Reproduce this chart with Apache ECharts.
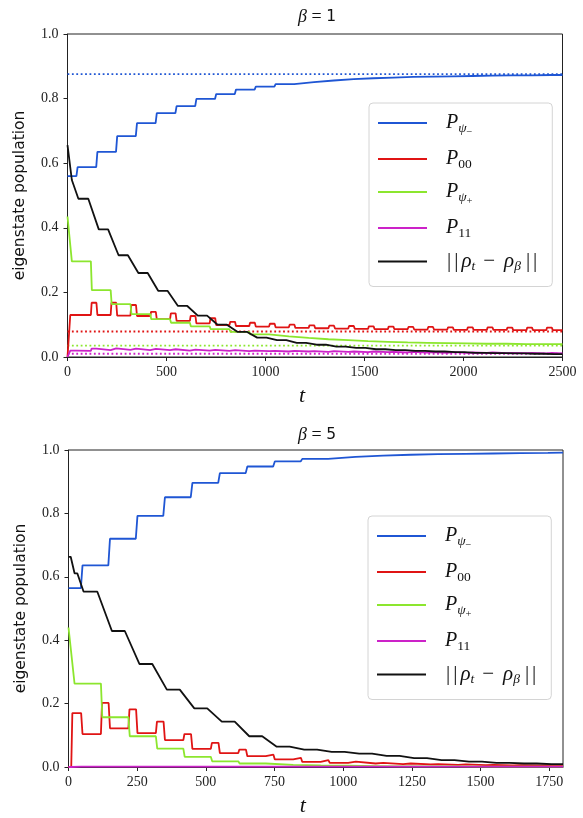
<!DOCTYPE html>
<html>
<head>
<meta charset="utf-8">
<script src="https://cdn.jsdelivr.net/npm/echarts@6/dist/echarts.min.js"></script>
<style>
  html, body { margin: 0; padding: 0; background: #ffffff; }
  #chart { width: 583px; height: 818px; }
</style>
</head>
<body>
<div id="chart"></div>
<script>
// Drive protocol: one pulse per cycle of 100 time units.
const cycle = 100;
const firstOn = 10;   // the very first pulse starts early
const pulseOn = 18;   // pulse start inside a cycle
const pulseOff = 48;  // pulse end inside a cycle

// ---------------- beta = 1 ----------------
const tMax1 = 2500;
const xTicks1 = [0, 500, 1000, 1500, 2000, 2500];
const blue1Start = 0.560;
const blue1 = [0.588, 0.635, 0.684, 0.724, 0.755, 0.777, 0.799, 0.814, 0.828, 0.837,
               0.845, 0.851, 0.856, 0.860, 0.863, 0.865, 0.867, 0.868, 0.869, 0.870,
               0.871, 0.872, 0.872, 0.873, 0.873];
const red1Peak = [0.130, 0.168, 0.168, 0.161, 0.140, 0.135, 0.127, 0.120, 0.109, 0.106,
                  0.103, 0.100, 0.098, 0.097, 0.096, 0.095, 0.094, 0.093, 0.093, 0.092,
                  0.092, 0.092, 0.091, 0.091, 0.091];
const red1Base = [0.130, 0.130, 0.128, 0.127, 0.117, 0.112, 0.104, 0.099, 0.096, 0.094,
                  0.092, 0.090, 0.089, 0.088, 0.087, 0.086, 0.086, 0.085, 0.085, 0.084,
                  0.084, 0.084, 0.083, 0.083, 0.083];
const green1Start = 0.435;
const green1 = [0.296, 0.207, 0.164, 0.133, 0.117, 0.106, 0.095, 0.086, 0.078, 0.070,
                0.064, 0.059, 0.055, 0.052, 0.049, 0.047, 0.045, 0.044, 0.043, 0.042,
                0.041, 0.041, 0.040, 0.040, 0.040];
const magenta1Peak = [0.020, 0.026, 0.027, 0.026, 0.025, 0.024, 0.023, 0.022, 0.021, 0.020,
                      0.019, 0.019, 0.018, 0.018, 0.017, 0.017, 0.016, 0.016, 0.015, 0.015,
                      0.014, 0.014, 0.013, 0.013, 0.013];
const magenta1Base = [0.019, 0.021, 0.022, 0.021, 0.021, 0.020, 0.020, 0.019, 0.018, 0.018,
                      0.017, 0.017, 0.016, 0.016, 0.015, 0.015, 0.014, 0.014, 0.013, 0.013,
                      0.013, 0.012, 0.012, 0.011, 0.011];
const dist1Start = 0.656;
const dist1Lead = 0.548;   // fast initial drop before the first cycle settles
const dist1 = [0.490, 0.395, 0.315, 0.260, 0.205, 0.158, 0.128, 0.100, 0.078, 0.060,
               0.052, 0.044, 0.038, 0.032, 0.028, 0.024, 0.021, 0.019, 0.017, 0.015,
               0.013, 0.012, 0.011, 0.010, 0.009];
// thermal populations at beta = 1: psi-, 00, psi+, 11
const thermal1 = [0.876, 0.079, 0.035, 0.010];

// ---------------- beta = 5 ----------------
const tMax5 = 1800;
const xTicks5 = [0, 250, 500, 750, 1000, 1250, 1500, 1750];
const blue5Start = 0.564;
const blue5 = [0.636, 0.720, 0.792, 0.851, 0.896, 0.927, 0.948, 0.964, 0.972, 0.978,
               0.982, 0.985, 0.987, 0.988, 0.989, 0.990, 0.991, 0.992];
const red5Peak = [0.170, 0.202, 0.182, 0.143, 0.104, 0.076, 0.055, 0.039, 0.029, 0.022,
                  0.017, 0.013, 0.011, 0.009, 0.008, 0.007, 0.006, 0.006];
const red5Base = [0.104, 0.122, 0.107, 0.085, 0.057, 0.044, 0.034, 0.024, 0.016, 0.013,
                  0.011, 0.009, 0.008, 0.007, 0.006, 0.005, 0.005, 0.005];
const green5Start = 0.440;
const green5 = [0.263, 0.157, 0.097, 0.058, 0.032, 0.018, 0.011, 0.007, 0.005, 0.004,
                0.003, 0.002, 0.002, 0.002, 0.001, 0.001, 0.001, 0.001];
const magenta5Peak = [0.001, 0.001, 0.001, 0.001, 0.001, 0.001, 0.001, 0.001, 0.001, 0.001,
                      0.001, 0.001, 0.001, 0.001, 0.001, 0.001, 0.001, 0.001];
const magenta5Base = [0.001, 0.001, 0.001, 0.001, 0.001, 0.001, 0.001, 0.001, 0.001, 0.001,
                      0.001, 0.001, 0.001, 0.001, 0.001, 0.001, 0.001, 0.001];
const dist5Start = 0.663;
const dist5Lead = 0.611;
const dist5 = [0.553, 0.429, 0.325, 0.244, 0.185, 0.143, 0.097, 0.064, 0.055, 0.048,
               0.042, 0.035, 0.028, 0.022, 0.017, 0.013, 0.011, 0.009];

const yTicks = [0, 0.2, 0.4, 0.6, 0.8, 1.0];

const names = ['Ppsim', 'P00', 'Ppsip', 'P11', 'dist'];
const colors = ['#1f56d4', '#e01414', '#8ce62e', '#cc22c8', '#111111'];

// ---- curve builders ----
const onset = k => (k === 0 ? firstOn : k * cycle + pulseOn);
const release = k => k * cycle + pulseOff;

// piecewise-constant levels with a transition window per cycle
function stairs(start, levels, win, tEnd, lead) {
  const pts = [[0, start]];
  let prev = start;
  if (lead !== undefined) {
    pts.push([8, start], [22, lead]);
    prev = lead;
  }
  levels.forEach((v, k) => {
    const [a, b] = win(k);
    if (a > tEnd) return;
    pts.push([a, prev], [Math.min(b, tEnd), v]);
    prev = v;
  });
  pts.push([tEnd, prev]);
  return pts;
}
// level raised to a peak during each pulse, then settles on a base
function pulses(peaks, bases, tEnd) {
  const pts = [[0, 0]];
  let prev = 0;
  bases.forEach((b, k) => {
    const on = onset(k), off = release(k);
    if (on > tEnd) return;
    pts.push([on, prev], [on + 4, peaks[k]], [off - 2, peaks[k]], [Math.min(off + 3, tEnd), b]);
    prev = b;
  });
  pts.push([tEnd, prev]);
  return pts;
}
const blueWin = k => [release(k) - 3, release(k) + 3];
const greenWin = k => (k === 0 ? [3, 22] : [onset(k), onset(k) + 5]);
const distWin = k => (k === 0 ? [32, 55] : [k * cycle + 5, k * cycle + 58]);

function panel(idx, tEnd, d) {
  const curves = [
    stairs(d.blueStart, d.blue, blueWin, tEnd),
    pulses(d.redPeak, d.redBase, tEnd),
    stairs(d.greenStart, d.green, greenWin, tEnd),
    pulses(d.magPeak, d.magBase, tEnd),
    stairs(d.distStart, d.dist, distWin, tEnd, d.distLead)
  ];
  const out = [];
  if (d.thermal) {
    d.thermal.forEach((v, i) => {
      out.push({
        type: 'line', name: 'thermal' + i, xAxisIndex: idx, yAxisIndex: idx,
        data: [[0, v], [tEnd, v]], symbol: 'none', silent: true, z: 1,
        lineStyle: { color: colors[i], width: 1.8, type: [1.8, 2.6] }
      });
    });
  }
  curves.forEach((c, i) => {
    out.push({
      type: 'line', name: names[i], xAxisIndex: idx, yAxisIndex: idx,
      data: c, symbol: 'none', showSymbol: false, silent: true, z: 2 + i,
      lineStyle: { color: colors[i], width: 1.8 }, itemStyle: { color: colors[i] }
    });
  });
  return out;
}

const serif = 'Liberation Serif';
const tickFont = { fontFamily: serif, fontSize: 14, color: '#222' };

function xAxis(idx, tEnd, ticks) {
  return {
    type: 'value', gridIndex: idx, min: 0, max: tEnd, interval: ticks[1] - ticks[0],
    splitLine: { show: false },
    axisLine: { show: true, lineStyle: { color: '#222', width: 1 } },
    axisTick: { show: true, length: 4, lineStyle: { color: '#222' } },
    axisLabel: Object.assign({ margin: 8, showMaxLabel: tEnd === ticks[ticks.length - 1],
                               formatter: v => String(v) }, tickFont),
    name: '{t|t}', nameLocation: 'middle', nameGap: 28,
    nameTextStyle: { rich: { t: { fontFamily: serif, fontStyle: 'italic', fontSize: 22, color: '#111', padding: [0, 26, 0, 0] } } }
  };
}
function yAxis(idx) {
  return {
    type: 'value', gridIndex: idx, min: 0, max: 1, interval: yTicks[1] - yTicks[0],
    splitLine: { show: false },
    axisLine: { show: true, lineStyle: { color: '#222', width: 1 } },
    axisTick: { show: true, length: 4, lineStyle: { color: '#222' } },
    axisLabel: Object.assign({ margin: 9, formatter: v => v.toFixed(1) }, tickFont),
    name: 'eigenstate population', nameLocation: 'middle', nameGap: 40, nameRotate: 90,
    nameTextStyle: { fontFamily: 'DejaVu Sans', fontSize: 15.5, color: '#111' }
  };
}

const base = { color: '#111', lineHeight: 24, fontWeight: 'normal' };
const legendRich = {
  g: { width: 14 },
  P: Object.assign({ fontFamily: serif, fontStyle: 'italic', fontSize: 20, verticalAlign: 'middle' }, base),
  s: Object.assign({ fontFamily: serif, fontSize: 13.5, verticalAlign: 'bottom' }, base),
  si: Object.assign({ fontFamily: serif, fontStyle: 'italic', fontSize: 13.5, verticalAlign: 'bottom' }, base),
  ss: Object.assign({ fontFamily: serif, fontSize: 10.5, verticalAlign: 'bottom', padding: [0, 0, -3, 0] }, base),
  bar: Object.assign({ fontFamily: serif, fontSize: 21, verticalAlign: 'middle', padding: [0, 2, 0, 1] }, base),
  mi: Object.assign({ fontFamily: serif, fontSize: 21, verticalAlign: 'middle', padding: [0, 8, 0, 8] }, base),
  ni: Object.assign({ fontFamily: serif, fontStyle: 'italic', fontSize: 21, verticalAlign: 'middle', padding: [0, 0, 0, 1] }, base),
  sib: Object.assign({ fontFamily: serif, fontStyle: 'italic', fontSize: 13.5, verticalAlign: 'bottom', padding: [0, 4, 0, 0] }, base)
};
const legendText = {
  Ppsim: '{g|}{P|P}{si|ψ}{ss|−}',
  P00: '{g|}{P|P}{s|00}',
  Ppsip: '{g|}{P|P}{si|ψ}{ss|+}',
  P11: '{g|}{P|P}{s|11}',
  dist: '{g|}{bar||}{bar||}{ni|ρ}{si|t}{mi|−}{ni|ρ}{sib|β}{bar||}{bar||}'
};
function legend(left, top) {
  return {
    data: names.map(n => ({ name: n, icon: 'rect' })),
    orient: 'vertical', left: left, top: top,
    itemWidth: 49, itemHeight: 2, itemGap: 11,
    padding: [10, 13, 13, 9],
    backgroundColor: 'rgba(255,255,255,0.85)', borderColor: '#d4d4d4', borderWidth: 1, borderRadius: 4,
    selectedMode: false,
    formatter: n => legendText[n],
    textStyle: { rich: legendRich }
  };
}
function title(top, b) {
  const t = { color: '#111', fontWeight: 'normal' };
  return {
    text: '{b|β}{e| = }{n|' + b + '}', left: 312, top: top, textAlign: 'center',
    textStyle: { fontWeight: 'normal', rich: {
      b: Object.assign({ fontFamily: serif, fontStyle: 'italic', fontSize: 18 }, t),
      e: Object.assign({ fontFamily: serif, fontSize: 18 }, t),
      n: Object.assign({ fontFamily: 'DejaVu Sans', fontSize: 15.5 }, t)
    } }
  };
}

const chart = echarts.init(document.getElementById('chart'), null, { renderer: 'canvas' });
chart.setOption({
  animation: false,
  backgroundColor: '#ffffff',
  title: [title(3, '1'), title(421, '5')],
  grid: [
    { left: 67.5, top: 34, width: 495, height: 323, show: true, borderColor: '#222', borderWidth: 1, backgroundColor: 'transparent' },
    { left: 68.5, top: 450, width: 494.5, height: 321, show: true, borderColor: '#222', borderWidth: 1, backgroundColor: 'transparent' }
  ],
  xAxis: [xAxis(0, tMax1, xTicks1), xAxis(1, tMax5, xTicks5)],
  yAxis: [yAxis(0), yAxis(1)],
  legend: [legend(369, 103), legend(368, 516)],
  series: [].concat(
    panel(0, tMax1, {
      blueStart: blue1Start, blue: blue1, redPeak: red1Peak, redBase: red1Base,
      greenStart: green1Start, green: green1, magPeak: magenta1Peak, magBase: magenta1Base,
      distStart: dist1Start, distLead: dist1Lead, dist: dist1, thermal: thermal1
    }),
    panel(1, tMax5, {
      blueStart: blue5Start, blue: blue5, redPeak: red5Peak, redBase: red5Base,
      greenStart: green5Start, green: green5, magPeak: magenta5Peak, magBase: magenta5Base,
      distStart: dist5Start, distLead: dist5Lead, dist: dist5
    })
  )
});
</script>
</body>
</html>
